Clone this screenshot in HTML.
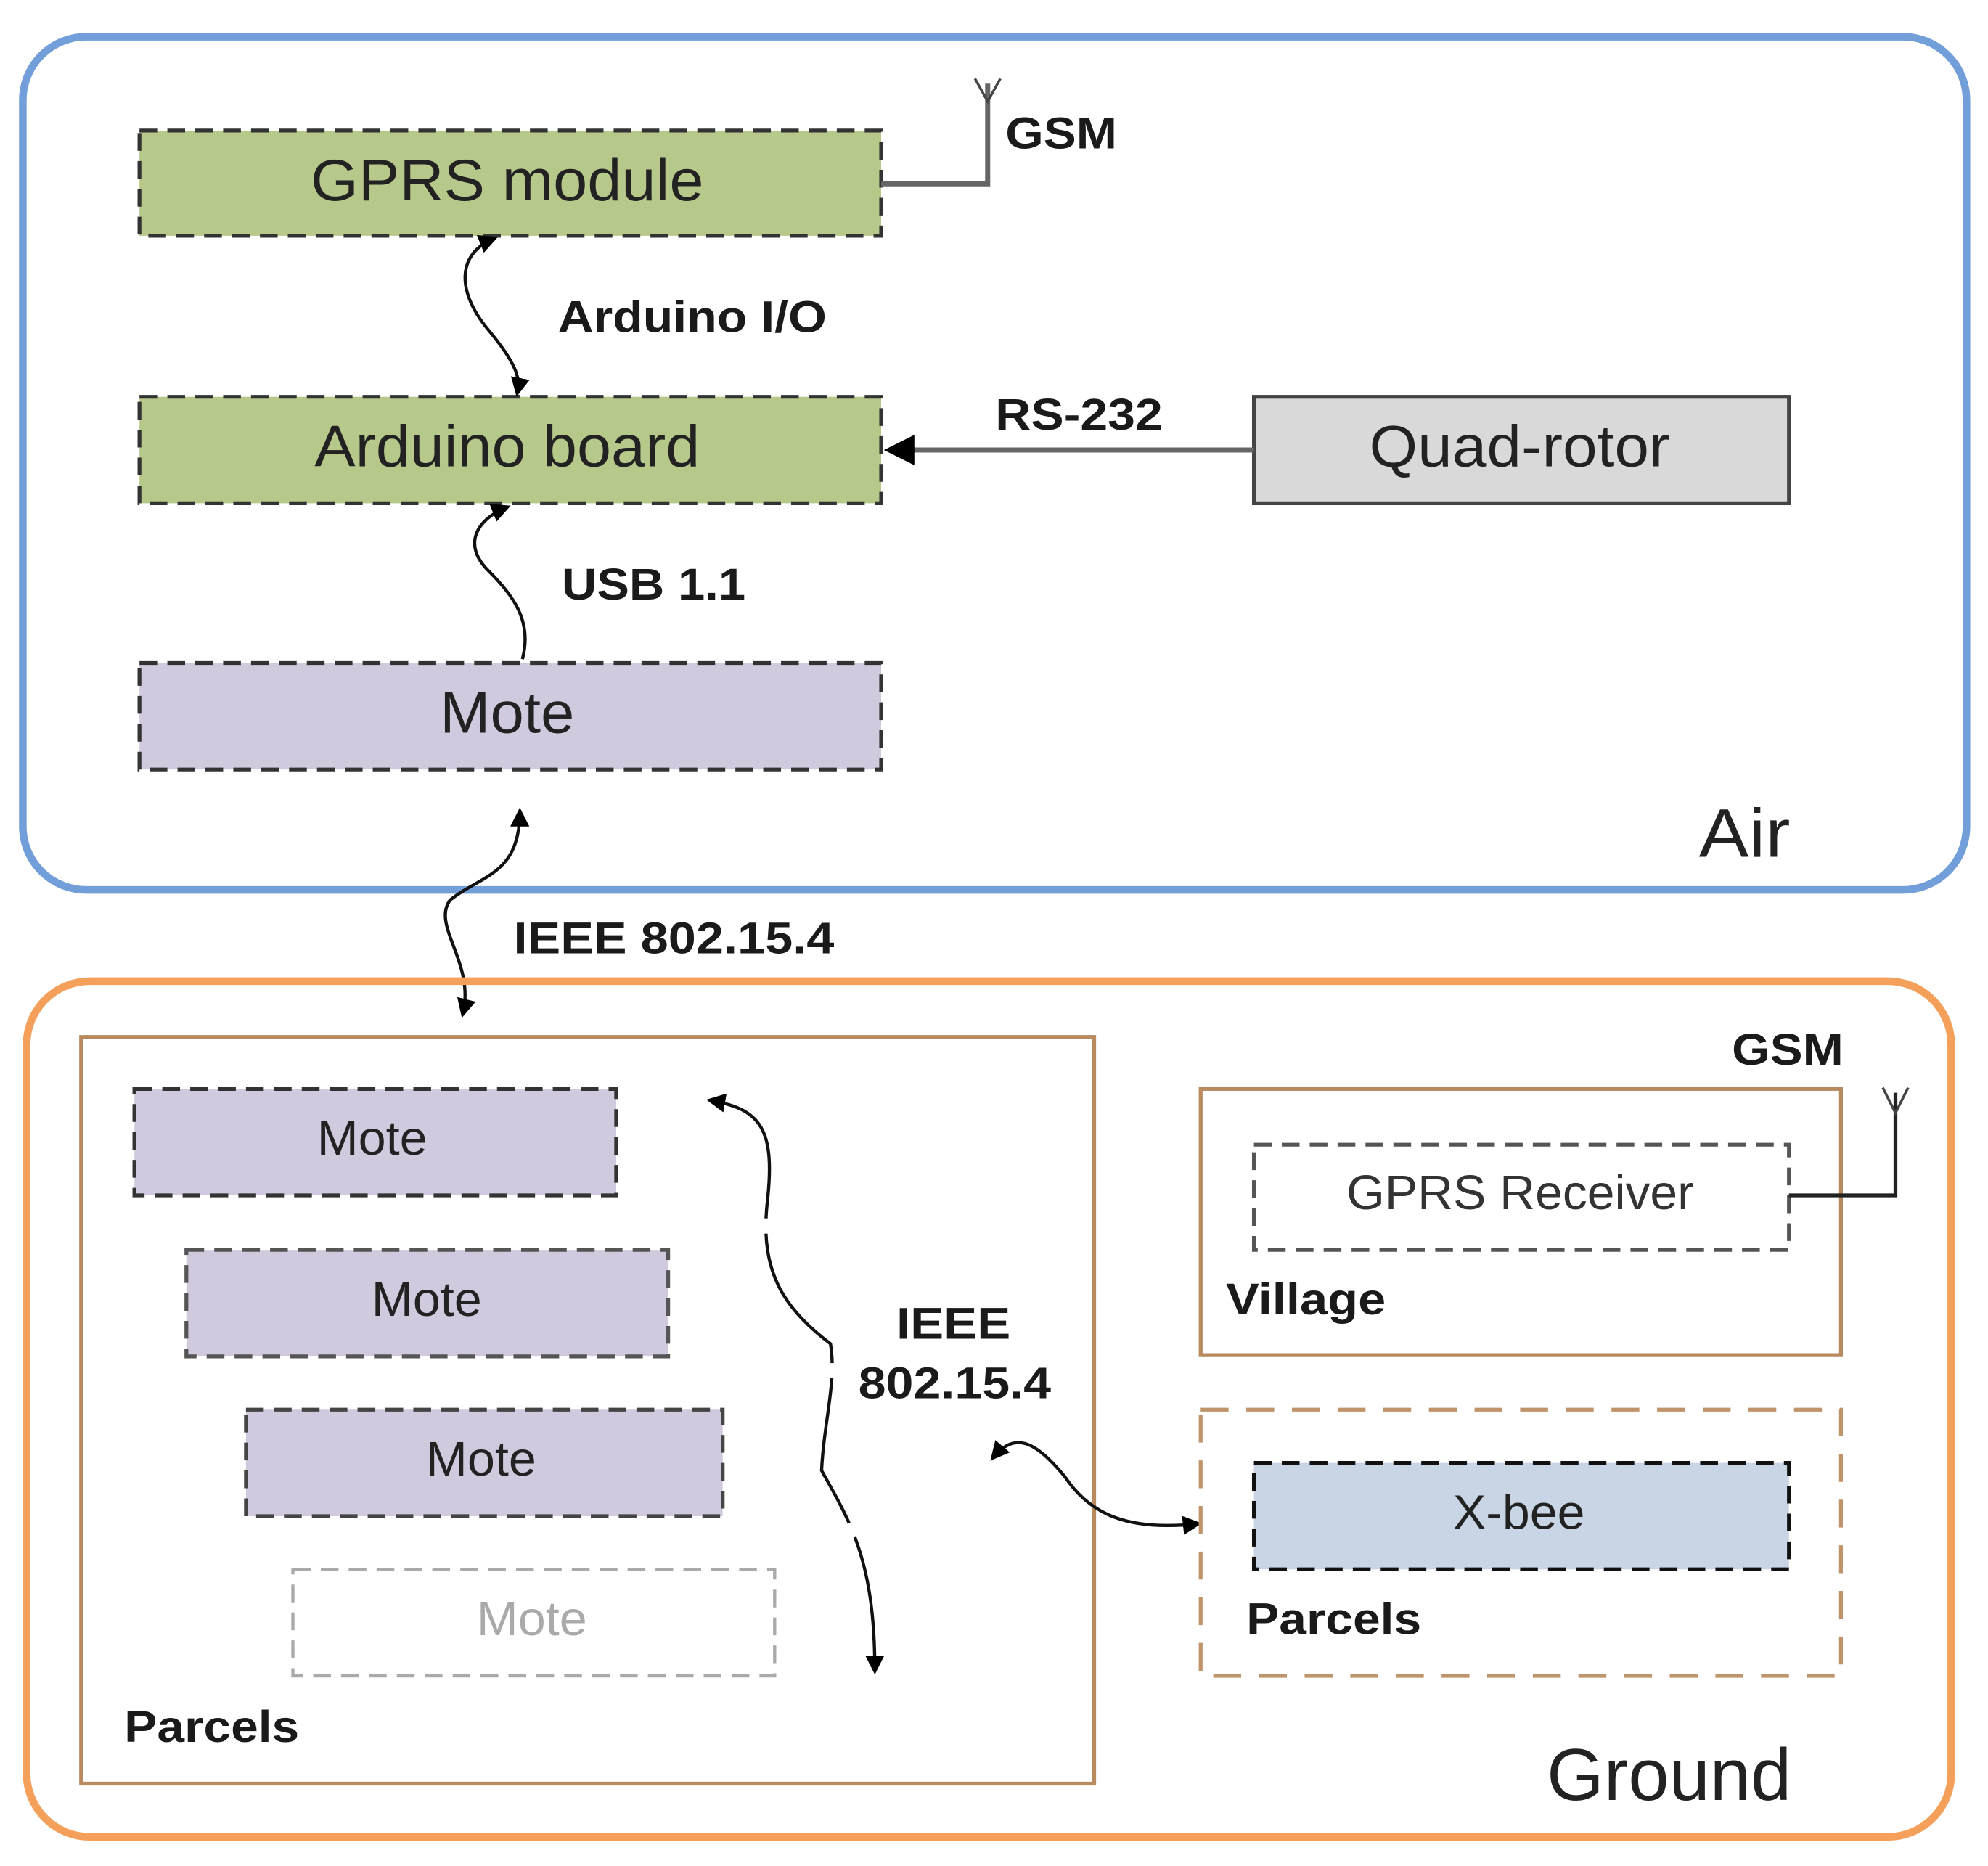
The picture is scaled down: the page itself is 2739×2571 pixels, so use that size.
<!DOCTYPE html>
<html><head><meta charset="utf-8"><style>
html,body{margin:0;padding:0;background:#fff}
svg{display:block}
text{font-family:"Liberation Sans",Arial,sans-serif}
.b{font-weight:bold;fill:#1a1a1a}
</style></head><body>
<svg width="2739" height="2571" viewBox="0 0 1568 1472" preserveAspectRatio="none" xmlns="http://www.w3.org/2000/svg">
<defs>
<marker id="ah" viewBox="0 0 10 10" refX="8" refY="5" markerWidth="6" markerHeight="6" orient="auto-start-reverse"><path d="M0,0 L10,5 L0,10 z" fill="#000"/></marker>
</defs>
<!-- Air -->
<rect x="18" y="29" width="1533" height="673" rx="50" fill="#fff" stroke="#729fd9" stroke-width="6"/>
<rect x="110" y="103" width="585" height="83" fill="#b6c98b" stroke="#333" stroke-width="3" stroke-dasharray="14,8"/>
<text x="245" y="158" font-size="46" textLength="310" lengthAdjust="spacingAndGlyphs" fill="#222">GPRS module</text>
<rect x="110" y="313" width="585" height="84" fill="#b6c98b" stroke="#333" stroke-width="3" stroke-dasharray="14,8"/>
<text x="248" y="368" font-size="46" textLength="304" lengthAdjust="spacingAndGlyphs" fill="#222">Arduino board</text>
<rect x="110" y="523" width="585" height="84" fill="#d1c9de" stroke="#333" stroke-width="3" stroke-dasharray="14,8"/>
<text x="347" y="578" font-size="46" textLength="106" lengthAdjust="spacingAndGlyphs" fill="#222">Mote</text>
<rect x="989" y="313" width="422" height="84" fill="#d9d9d9" stroke="#444" stroke-width="3"/>
<text x="1080" y="368" font-size="46" textLength="237" lengthAdjust="spacingAndGlyphs" fill="#222">Quad-rotor</text>
<polyline points="695,145 779,145 779,66" fill="none" stroke="#666" stroke-width="4"/>
<path d="M769,62 L779,80 L789,62" fill="none" stroke="#444" stroke-width="2"/>
<text x="793" y="117" font-size="35" textLength="88" lengthAdjust="spacingAndGlyphs" class="b">GSM</text>
<path d="M390,188 C360,200 360,230 385,260 C410,290 410,300 408,310" fill="none" stroke="#111" stroke-width="2.5" marker-start="url(#ah)" marker-end="url(#ah)"/>
<text x="440" y="262" font-size="35" textLength="212" lengthAdjust="spacingAndGlyphs" class="b">Arduino I/O</text>
<line x1="989" y1="355" x2="702" y2="355" stroke="#666" stroke-width="4" marker-end="url(#ah)"/>
<text x="785" y="339" font-size="35" textLength="132" lengthAdjust="spacingAndGlyphs" class="b">RS-232</text>
<path d="M412,520 C420,490 405,470 385,450 C365,430 375,410 400,400" fill="none" stroke="#111" stroke-width="2.5" marker-end="url(#ah)"/>
<text x="443" y="473" font-size="35" textLength="145" lengthAdjust="spacingAndGlyphs" class="b">USB 1.1</text>
<text x="1340" y="676" font-size="54" textLength="72" lengthAdjust="spacingAndGlyphs" fill="#222">Air</text>
<!-- IEEE top -->
<path d="M410,640 C410,690 380,690 355,710 C340,730 375,760 365,800" fill="none" stroke="#111" stroke-width="2.5" marker-start="url(#ah)" marker-end="url(#ah)"/>
<text x="405" y="752" font-size="35" textLength="253" lengthAdjust="spacingAndGlyphs" class="b">IEEE 802.15.4</text>
<!-- Ground -->
<rect x="21" y="774" width="1518" height="675" rx="50" fill="none" stroke="#f4a05a" stroke-width="6"/>
<rect x="64" y="818" width="799" height="589" fill="#fff" stroke="#b88a5e" stroke-width="3"/>
<rect x="106" y="859" width="380" height="84" fill="#d1c9de" stroke="#333" stroke-width="3" stroke-dasharray="14,8"/>
<text x="250" y="911" font-size="38" textLength="87" lengthAdjust="spacingAndGlyphs" fill="#222">Mote</text>
<rect x="147" y="986" width="380" height="84" fill="#d1c9de" stroke="#555" stroke-width="3" stroke-dasharray="14,8"/>
<text x="293" y="1038" font-size="38" textLength="87" lengthAdjust="spacingAndGlyphs" fill="#222">Mote</text>
<rect x="194" y="1112" width="376" height="84" fill="#d1c9de" stroke="#444" stroke-width="3" stroke-dasharray="14,8"/>
<text x="336" y="1164" font-size="38" textLength="87" lengthAdjust="spacingAndGlyphs" fill="#222">Mote</text>
<rect x="231" y="1238" width="380" height="84" fill="#fff" stroke="#aaa" stroke-width="2.5" stroke-dasharray="14,8"/>
<text x="376" y="1290" font-size="38" textLength="87" lengthAdjust="spacingAndGlyphs" fill="#aaa">Mote</text>
<text x="98" y="1374" font-size="35" textLength="138" lengthAdjust="spacingAndGlyphs" class="b">Parcels</text>
<path d="M560,868 C600,875 612,890 605,950 C600,1000 615,1030 655,1060 C660,1090 650,1120 648,1160 C670,1200 690,1230 690,1318" fill="none" stroke="#111" stroke-width="2.5" stroke-dasharray="120,12" marker-start="url(#ah)" marker-end="url(#ah)"/>
<text x="707" y="1056" font-size="35" textLength="90" lengthAdjust="spacingAndGlyphs" class="b">IEEE</text>
<text x="677" y="1103" font-size="35" textLength="152" lengthAdjust="spacingAndGlyphs" class="b">802.15.4</text>
<path d="M783,1150 C800,1130 815,1135 840,1165 C860,1195 890,1208 945,1202" fill="none" stroke="#111" stroke-width="2.5" marker-start="url(#ah)" marker-end="url(#ah)"/>
<rect x="947" y="859" width="505" height="210" fill="none" stroke="#b88a5e" stroke-width="3"/>
<rect x="989" y="903" width="422" height="83" fill="#fff" stroke="#555" stroke-width="3" stroke-dasharray="14,8"/>
<text x="1062" y="954" font-size="38" textLength="274" lengthAdjust="spacingAndGlyphs" fill="#333">GPRS Receiver</text>
<text x="967" y="1037" font-size="35" textLength="126" lengthAdjust="spacingAndGlyphs" class="b">Village</text>
<text x="1366" y="840" font-size="35" textLength="88" lengthAdjust="spacingAndGlyphs" class="b">GSM</text>
<polyline points="1411,943 1495,943 1495,862" fill="none" stroke="#222" stroke-width="3"/>
<path d="M1485,858 L1495,878 L1505,858" fill="none" stroke="#444" stroke-width="2"/>
<rect x="947" y="1112" width="505" height="210" fill="none" stroke="#c0946a" stroke-width="3" stroke-dasharray="22,14"/>
<rect x="989" y="1154" width="422" height="84" fill="#c9d5e5" stroke="#111" stroke-width="3" stroke-dasharray="14,8"/>
<text x="1146" y="1206" font-size="38" textLength="104" lengthAdjust="spacingAndGlyphs" fill="#222">X-bee</text>
<text x="983" y="1289" font-size="35" textLength="138" lengthAdjust="spacingAndGlyphs" class="b">Parcels</text>
<text x="1220" y="1420" font-size="58" textLength="193" lengthAdjust="spacingAndGlyphs" fill="#222">Ground</text>
</svg>
</body></html>
